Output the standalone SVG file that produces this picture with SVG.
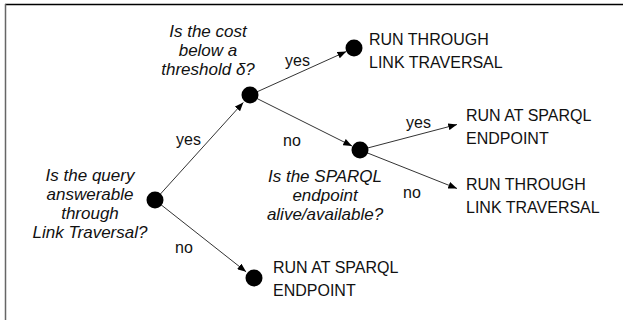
<svg xmlns="http://www.w3.org/2000/svg" width="623" height="320" viewBox="0 0 623 320">
<defs>
<style>
.t{font-family:"Liberation Sans",Arial,sans-serif;font-size:16px;fill:#111}
.q{font-family:"Liberation Sans",Arial,sans-serif;font-size:17px;font-style:italic;fill:#111;text-anchor:middle}
.c{stroke:#333;stroke-width:1;fill:none;marker-end:url(#ah)}
.n{fill:#000}
</style>
<marker id="ah" viewBox="0 0 10 8" refX="10" refY="4" markerWidth="9" markerHeight="7" markerUnits="userSpaceOnUse" orient="auto">
<path d="M0,0 L10,4 L0,8 z" fill="#000"/>
</marker>
</defs>
<rect width="623" height="320" fill="#fff"/>
<line x1="5" y1="4.5" x2="623" y2="4.5" stroke="#000" stroke-width="1.5"/>
<line x1="5.5" y1="4" x2="5.5" y2="320" stroke="#666" stroke-width="1.5"/>
<g id="connectors">
<line class="c" x1="155" y1="200" x2="243.3" y2="102.4"/>
<line class="c" x1="155" y1="200" x2="246.1" y2="271.8"/>
<line class="c" x1="250" y1="95" x2="346.3" y2="51.5"/>
<line class="c" x1="250" y1="95" x2="352" y2="146"/>
<line class="c" x1="360" y1="150" x2="457" y2="124.5"/>
<line class="c" x1="360" y1="150" x2="457" y2="188.5"/>
<text class="t" x="176" y="145">yes</text>
<text class="t" x="175" y="253">no</text>
<text class="t" x="285" y="66">yes</text>
<text class="t" x="283" y="146">no</text>
<text class="t" x="406" y="128">yes</text>
<text class="t" x="403" y="198">no</text>
</g>
<g id="n-root">
<circle class="n" cx="155" cy="200" r="8.5"/>
<text class="q"><tspan x="90" y="181">Is the query</tspan><tspan x="90" y="200">answerable</tspan><tspan x="90" y="219">through</tspan><tspan x="90" y="238">Link Traversal?</tspan></text>
</g>
<g id="n-cost">
<circle class="n" cx="250" cy="95" r="8.5"/>
<text class="q"><tspan x="208" y="37">Is the cost</tspan><tspan x="208" y="56">below a</tspan><tspan x="208" y="75">threshold δ?</tspan></text>
</g>
<g id="n-alive">
<circle class="n" cx="360" cy="150" r="8.5"/>
<text class="q"><tspan x="325" y="182">Is the SPARQL</tspan><tspan x="325" y="201">endpoint</tspan><tspan x="325" y="220">alive/available?</tspan></text>
</g>
<g id="leaf-lt1">
<circle class="n" cx="354" cy="48" r="8.5"/>
<text class="t"><tspan x="369" y="45">RUN THROUGH</tspan><tspan x="369" y="68">LINK TRAVERSAL</tspan></text>
</g>
<g id="leaf-sparql1">
<text class="t"><tspan x="466" y="121">RUN AT SPARQL</tspan><tspan x="466" y="144">ENDPOINT</tspan></text>
</g>
<g id="leaf-lt2">
<text class="t"><tspan x="466" y="190">RUN THROUGH</tspan><tspan x="466" y="213">LINK TRAVERSAL</tspan></text>
</g>
<g id="leaf-sparql2">
<circle class="n" cx="254" cy="278" r="8.5"/>
<text class="t"><tspan x="273" y="273">RUN AT SPARQL</tspan><tspan x="273" y="296">ENDPOINT</tspan></text>
</g>
</svg>
